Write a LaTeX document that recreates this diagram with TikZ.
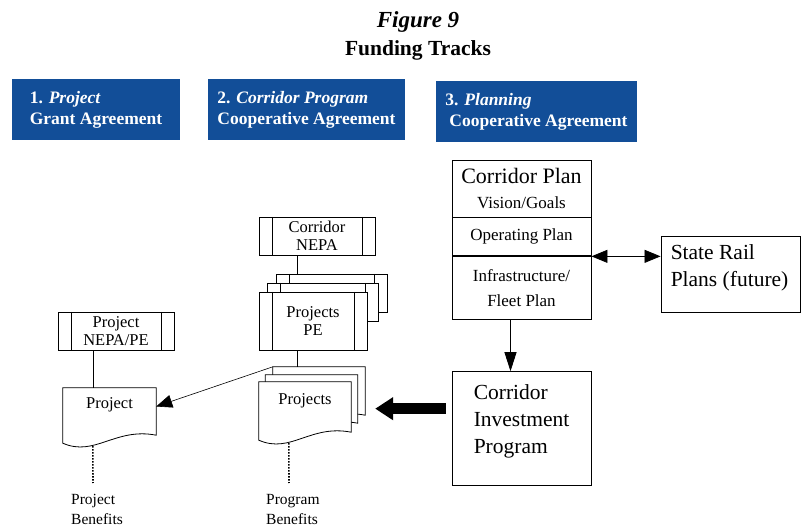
\documentclass[tikz,border=0pt]{standalone}
\usepackage{fontspec}
\setmainfont{Liberation Serif}
\usetikzlibrary{positioning, arrows.meta}
\definecolor{trackblue}{RGB}{18,78,152}
\pgfdeclarelayer{bg}
\pgfsetlayers{bg,main}
\tikzset{
        >={Triangle[length=16pt,width=13pt]}, % big filled heads
        every node/.style={inner sep=0pt},
        track/.style={fill=trackblue, text=white, align=left, minimum height=61pt,
                font=\fontsize{17.5}{21}\selectfont\bfseries},
        proc/.style={draw, line width=.8pt, fill=white, align=center, minimum height=38pt,
                font=\fontsize{16.5}{18.5}\selectfont,
                path picture={\draw[line width=.8pt]
                        ([xshift=13pt]path picture bounding box.north west) -- ([xshift=13pt]path picture bounding box.south west)
                        ([xshift=-13pt]path picture bounding box.north east) -- ([xshift=-13pt]path picture bounding box.south east);}},
        doc/.style={minimum width=92pt, minimum height=56pt, text height=14pt, text depth=27pt,
                font=\fontsize{16.5}{19}\selectfont},
        plan/.style={draw, line width=.9pt, minimum width=139pt, align=center,
                font=\fontsize{17}{25}\selectfont},
        bigbox/.style={draw, line width=.9pt, minimum width=139pt},
        bigtext/.style={anchor=north west, align=left, font=\fontsize{21.5}{27}\selectfont},
        benefit/.style={anchor=north west, align=left, font=\fontsize{15.5}{20}\selectfont},
        dots/.style={line width=1.6pt, dash pattern=on 1.5pt off 1.5pt}
        }
% outline of a document node, with its wavy bottom
\newcommand{\docline}[1]{%
  \begin{pgfonlayer}{bg}
  \draw[line width=.8pt, fill=white] (#1.north west) -- (#1.north east) -- ([yshift=8pt]#1.south east)
        .. controls ([xshift=-41pt,yshift=16pt]#1.south east) and ([xshift=32pt,yshift=-14pt]#1.south west) .. (#1.south west) -- cycle;
  \end{pgfonlayer}}

\begin{document}
\begin{tikzpicture}[x=1pt, y=-1pt, node distance=0pt]
        \useasboundingbox (0,0) rectangle (801,529);
        \node[align=center, font=\fontsize{21.5}{28}\selectfont\bfseries] (title) at (418,36)
                {{\fontsize{23}{28}\selectfont\itshape Figure 9}\\Funding Tracks};

        % the three tracks
        \node[track, minimum width=168pt] (t1) at (96,109.5) {1. \textit{Project}\\Grant Agreement};
        \node[track, minimum width=197pt] (t2) at (306.5,109.5) {2. \textit{Corridor Program}\\Cooperative Agreement};
        \node[track, minimum width=201pt] (t3) at (536.5,112) {3. \textit{Planning}\\\hspace*{4pt}Cooperative Agreement};

        % planning
        \node[plan, minimum height=57pt] (cp1) at (521.5,188.5) {{\fontsize{22}{25}\selectfont Corridor Plan}\\Vision/Goals};
        \node[plan, minimum height=38pt, below=of cp1] (cp2) {Operating Plan};
        \node[plan, minimum height=63pt, below=of cp2] (cp3) {Infrastructure/\\Fleet Plan};
        \node[bigbox, minimum height=76pt,
              label={[bigtext, xshift=10pt, yshift=-9pt]north west:State Rail\\Plans (future)}] (srp) at (730.5,274) {};
        \node[bigbox, minimum height=114pt, below=51pt of cp3,
              label={[bigtext, xshift=22pt, yshift=-13pt]north west:Corridor\\Investment\\Program}] (cip) {};

        % corridor program
        \node[proc, minimum width=116pt] (nepa) at (317,236) {Corridor\\NEPA};
        \node[proc, minimum width=111pt] (pe3) at (331.5,293) {};
        \node[proc, minimum width=111pt] (pe2) at (322.5,302) {};
        \node[proc, minimum width=108pt, minimum height=58pt] (pe) at (313,321) {Projects\\PE};
        \node[doc] (pj3) at (319,395) {};
        \node[doc] (pj2) at (311.5,403) {};
        \node[doc, minimum height=58pt] (pj) at (305,411) {Projects};
        \docline{pj3} \docline{pj2} \docline{pj}
        \node[benefit] (pgb) at (266,494.5) {Program\\Benefits};
        \coordinate (pgend) at (289,483);

        % project
        \node[proc, minimum width=116pt] (pnepa) at (116,331) {Project\\NEPA/PE};
        \node[doc, minimum width=93pt, minimum height=55pt] (prj) at (109.5,415.5) {Project};
        \docline{prj}
        \node[benefit] (pjb) at (71,494.5) {Project\\Benefits};
        \coordinate (pjend) at (93,483);

        \draw[line width=.8pt] ([xshift=-20pt]nepa.south) -- ([xshift=-20pt]nepa.south |- pe3.north)
              ([xshift=-16pt]pe.south) -- ([xshift=-16pt]pe.south |- pj3.north)
              ([xshift=-23pt]pnepa.south) -- ([xshift=-23pt]pnepa.south |- prj.north);
        \draw[dots] ([xshift=30pt,yshift=-3pt]pj.south west) -- (pgend)
              ([xshift=30pt,yshift=-3pt]prj.south west) -- (pjend);
        \draw[->, line width=.6pt] (pj3.north west) -- ([yshift=9pt]prj.east);
        \draw[<->, line width=.8pt] (cp2.south east) -- (cp2.south east -| srp.west);
        \draw[-{Triangle[length=19pt,width=12pt]}, line width=.8pt] ([xshift=-11pt]cp3.south) -- ([xshift=-11pt]cip.north);
        \draw[line width=11pt, -{Triangle[length=18pt,width=22pt]}] ([xshift=-6pt,yshift=20pt]cip.west)
              -- ([xshift=10pt,yshift=20pt]cip.west -| pj3.east);
\end{tikzpicture}
\end{document}
